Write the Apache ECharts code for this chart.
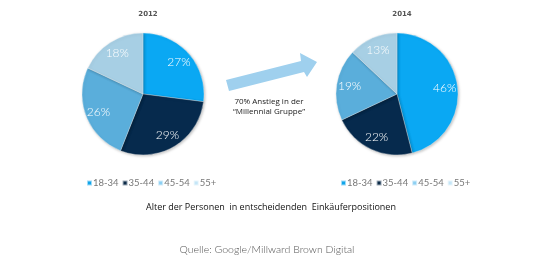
<!DOCTYPE html>
<html><head><meta charset="utf-8">
<script src="https://cdn.jsdelivr.net/npm/echarts@6/dist/echarts.min.js"></script>
<style>html,body{margin:0;padding:0;background:#fff}#c{width:540px;height:263px}</style>
</head><body><div id="c"></div>
<script>
const categories = ['18-34', '35-44', '45-54', '55+'];
const values2012 = [27, 29, 26, 18];
const values2014 = [46, 22, 19, 13];
const years = ['2012', '2014'];
const pieColors = ['#0aa8f3', '#062a4d', '#5aaedb', '#a7cfe4'];
const legendColors = ['#10a5ea', '#0c2b48', '#8dd0f3', '#c5e6f7'];

const chart = echarts.init(document.getElementById('c'), null, {renderer: 'canvas'});

function pieData(vals) {
  return categories.map((n, i) => ({name: n, value: vals[i], itemStyle: {color: pieColors[i]}}));
}
function baseSeries(vals, cx) {
  return {
    type: 'pie', center: [cx, 94], radius: [0, 61], startAngle: 90, clockwise: true,
    silent: true, animation: false,
    data: pieData(vals),
    label: {show: false}, labelLine: {show: false},
    itemStyle: {borderColor: 'rgba(255,255,255,0.6)', borderWidth: 0.5, shadowBlur: 3, shadowColor: 'rgba(0,0,0,0.25)', shadowOffsetX: 1, shadowOffsetY: 1}
  };
}
function labelSeries(vals, cx) {
  return {
    type: 'pie', center: [cx, 94], radius: [29, 61], startAngle: 90, clockwise: true,
    silent: true, animation: false,
    data: categories.map((n, i) => ({name: n, value: vals[i]})),
    itemStyle: {color: 'rgba(0,0,0,0)'},
    label: {show: true, position: 'inside', formatter: '{c}%', color: '#fff', fontFamily: 'Lato', fontSize: 12, fontWeight: 300},
    labelLine: {show: false}
  };
}
const legendData = categories.map((n, i) => ({name: n, itemStyle: {color: legendColors[i]}}));
function legend(left) {
  return {
    left: left, top: 173, orient: 'horizontal', icon: 'rect', itemWidth: 5, itemHeight: 5, itemGap: 3,
    selectedMode: false, data: legendData,
    textStyle: {fontFamily: 'Lato', fontSize: 9.5, color: '#777', padding: [0, 0, 0, -4]}
  };
}

chart.setOption({
  animation: false,
  title: [
    {text: years[0], left: 143, top: 6, textAlign: 'center', textStyle: {fontFamily: 'DejaVu Sans', fontSize: 7, fontWeight: 'bold', color: '#555'}},
    {text: years[1], left: 397, top: 6, textAlign: 'center', textStyle: {fontFamily: 'DejaVu Sans', fontSize: 7, fontWeight: 'bold', color: '#555'}}
  ],
  legend: [legend(81), legend(335)],
  series: [baseSeries(values2012, 143), labelSeries(values2012, 143), baseSeries(values2014, 397), labelSeries(values2014, 397)],
  graphic: [
    {type: 'polygon', shape: {points: [[226, 80], [229, 91], [304, 72], [307, 77], [317, 62], [300, 53], [301, 61]]}, style: {fill: '#9fd0ee'}, silent: true},
    {type: 'text', x: 269, y: 102, style: {text: '70% Anstieg in der', fontFamily: 'Open Sans', fontSize: 8, fill: '#222', textAlign: 'center', textVerticalAlign: 'middle'}},
    {type: 'text', x: 269, y: 112, style: {text: '\u201cMillennial Gruppe\u201d', fontFamily: 'Open Sans', fontSize: 8, fill: '#222', textAlign: 'center', textVerticalAlign: 'middle'}},
    {type: 'text', x: 271, y: 207, style: {text: 'Alter der Personen  in entscheidenden  Eink\u00e4uferpositionen', fontFamily: 'Open Sans', fontSize: 9, fill: '#111', textAlign: 'center', textVerticalAlign: 'middle'}},
    {type: 'text', x: 267, y: 250, style: {text: 'Quelle: Google/Millward Brown Digital', fontFamily: 'Lato', fontSize: 10.5, fontWeight: 300, fill: '#555', textAlign: 'center', textVerticalAlign: 'middle'}}
  ]
});
</script></body></html>
